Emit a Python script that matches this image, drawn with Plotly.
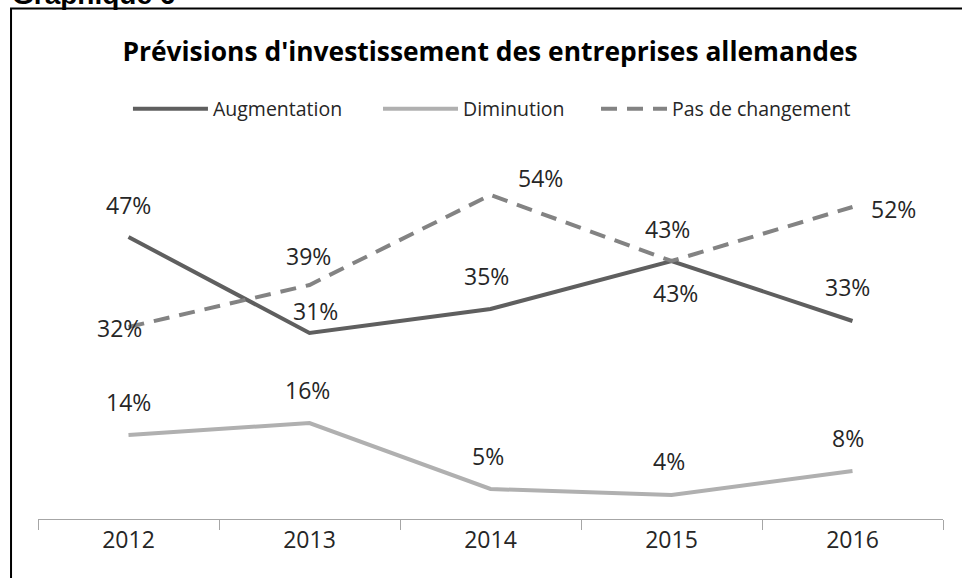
import plotly.graph_objects as go

years = ["2012", "2013", "2014", "2015", "2016"]
augmentation = [47, 31, 35, 43, 33]
diminution = [14, 16, 5, 4, 8]
pas_de_changement = [32, 39, 54, 43, 52]

# label offsets in px (dx, dy) from each point, dy positive = up
off_aug = [(0, 32), (6, 22), (-4, 33), (4, -32), (-5, 34)]
off_dim = [(0, 33), (-2, 33), (-3, 33), (-3, 34), (-5, 33)]
off_pas = [(-9, -1), (-1, 29), (50, 17), (-4, 32), (41, -2)]

FONT = "Open Sans"

fig = go.Figure()
series = [
    ("Augmentation", augmentation, dict(color="#5f5f5f", width=4), off_aug, "legend", 0.0994, 75),
    ("Diminution", diminution, dict(color="#b0b0b0", width=4), off_dim, "legend2", 0.3757, 75),
    ("Pas de changement", pas_de_changement,
     dict(color="#838383", width=4, dash="16px,10px"), off_pas, "legend3", 0.6166, 66),
]

for name, vals, line, offs, leg, lx, iw in series:
    fig.add_trace(go.Scatter(x=years, y=vals, mode="lines", name=name,
                             line=line, hoverinfo="skip", legend=leg))
    for i, (v, (dx, dy)) in enumerate(zip(vals, offs)):
        fig.add_annotation(x=i, y=v, xref="x", yref="y", text=f"{v}%", showarrow=False,
                           xshift=dx, yshift=dy, xanchor="center", yanchor="middle",
                           font=dict(family=FONT, size=23, color="#262626"))
    fig.update_layout({leg: dict(x=lx, xanchor="left", y=1.1389, yanchor="middle",
                                 orientation="h", itemwidth=iw,
                                 bgcolor="rgba(0,0,0,0)",
                                 font=dict(family=FONT, size=19.5, color="#262626"))})

# outer frame, cut by the page edge like the source
fig.add_shape(type="rect", xref="paper", yref="paper",
              x0=-0.0298, x1=1.04, y0=-0.2, y1=1.418,
              line=dict(color="black", width=2), layer="below")

fig.add_annotation(text="<b>Graphique 6</b>", xref="paper", yref="paper",
                   x=-0.031, y=1.408, xanchor="left", yanchor="bottom",
                   showarrow=False, font=dict(family="Liberation Sans", size=28, color="black"))

fig.update_xaxes(type="category", range=[-0.5, 4.5], showline=True, linecolor="#a6a6a6",
                 linewidth=1, ticks="outside", tickson="boundaries", ticklen=10,
                 tickcolor="#a6a6a6", showgrid=False, zeroline=False,
                 tickfont=dict(family=FONT, size=23, color="#262626"))
fig.update_yaxes(range=[0, 60], showticklabels=False, showline=False, ticks="",
                 showgrid=False, zeroline=False)

fig.update_layout(
    width=962, height=578,
    margin=dict(l=38, r=19, t=159, b=59),
    paper_bgcolor="white", plot_bgcolor="white",
    title=dict(text="<b>Prévisions d'investissement des entreprises allemandes</b>",
               x=0.5094, xanchor="center", y=1 - 52 / 578, yanchor="middle",
               font=dict(family=FONT, size=26.4, color="black")),
    showlegend=True,
)

fig.write_html("out.html", config={"displayModeBar": False},
               post_script="document.body.style.margin = '0';")
